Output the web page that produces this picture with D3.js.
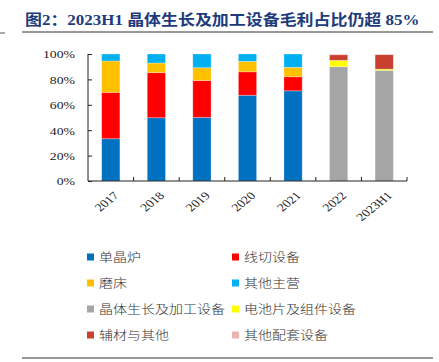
<!DOCTYPE html>
<html><head><meta charset="utf-8">
<script src="https://cdn.jsdelivr.net/npm/d3@7"></script>
<style>body{margin:0;background:#fff}svg{display:block}</style>
</head><body>
<svg id="c" width="439" height="362"></svg>
<script>
const categories = ['2017','2018','2019','2020','2021','2022','2023H1'];
const seriesNames = ['单晶炉','线切设备','磨床','其他主营','晶体生长及加工设备','电池片及组件设备','辅材与其他','其他配套设备'];
const s单晶炉 = [33.3, 49.8, 50.1, 67.5, 71.0, 0, 0];
const s线切设备 = [36.5, 35.5, 29.0, 18.5, 11.1, 0, 0];
const s磨床 = [24.7, 7.6, 10.1, 8.2, 7.4, 0, 0];
const s其他主营 = [5.5, 7.1, 10.8, 5.8, 10.5, 0, 0];
const s晶体生长 = [0, 0, 0, 0, 0, 90.0, 87.1];
const s电池片 = [0, 0, 0, 0, 0, 5.0, 1.0];
const s辅材 = [0, 0, 0, 0, 0, 4.4, 11.4];
const s其他配套 = [0, 0, 0, 0, 0, 0.6, 0.5];
const yTicks = [0, 20, 40, 60, 80, 100];
const colors = ['#0070C0','#FF0000','#FFC000','#00B0F0','#A5A5A5','#FFFF00','#C9402F','#EBB3AE'];

const seriesVals = [s单晶炉,s线切设备,s磨床,s其他主营,s晶体生长,s电池片,s辅材,s其他配套];
const table = categories.map((c,i)=>{const o={cat:c}; seriesNames.forEach((n,j)=>o[n]=seriesVals[j][i]); return o;});
const stacked = d3.stack().keys(seriesNames)(table);

const svg = d3.select('#c');
const x = d3.scaleBand().domain(categories).range([88,407]).padding(0);
const y = d3.scaleLinear().domain([0,100]).range([181,54]);
const bw = x.bandwidth()*0.4;

// title
svg.append('text').attr('transform','translate(25,25) scale(1.13,1)')
  .attr('font-family','"Liberation Serif","Noto Sans CJK SC"').attr('font-weight','bold')
  .attr('font-size',15).attr('fill','#203a7c')
  .text('图2：2023H1 晶体生长及加工设备毛利占比仍超 85%');
svg.append('line').attr('x1',22).attr('x2',433).attr('y1',32).attr('y2',32).attr('stroke','#333').attr('stroke-width',1.2);
svg.append('line').attr('x1',0).attr('x2',5).attr('y1',33).attr('y2',33).attr('stroke','#555').attr('stroke-width',1);
svg.append('line').attr('x1',22).attr('x2',433).attr('y1',358).attr('y2',358).attr('stroke','#333').attr('stroke-width',1.2);

// bars
svg.append('g').selectAll('g').data(stacked).join('g').attr('fill',(d,i)=>colors[i])
  .selectAll('rect').data(d=>d.filter(p=>p[1]-p[0]>0)).join('rect')
  .attr('x',d=>x(d.data.cat)+x.bandwidth()/2-bw/2).attr('width',bw)
  .attr('y',d=>y(d[1])).attr('height',d=>y(d[0])-y(d[1]))
  .attr('stroke','#fff').attr('stroke-opacity',0.35).attr('stroke-width',0.8);

// y axis
const ya = svg.append('g').attr('transform','translate(88,0)')
  .call(d3.axisLeft(y).tickValues(yTicks).tickSize(-4).tickPadding(0).tickFormat(d=>d+'%'));
ya.select('.domain').attr('d','M0,54V181').attr('stroke','#222');
ya.selectAll('.tick line').attr('stroke','#222');
ya.selectAll('.tick text').remove();
ya.selectAll('.tick').append('text')
  .attr('transform','translate(-13,0) scale(1.25,1)').attr('dy','0.35em')
  .attr('text-anchor','end').attr('font-family','"Liberation Serif"').attr('font-size',11).attr('fill','#222')
  .text(d=>d+'%');

// x axis
const xa = svg.append('g').attr('transform','translate(0,181)')
  .call(d3.axisBottom(x).tickSize(0).tickFormat(''));
xa.select('.domain').attr('d','M88,0H407').attr('stroke','#222');
xa.selectAll('.tick line').remove();
const bounds = categories.map(c=>x(c)).concat([x(categories[categories.length-1])+x.bandwidth()]).slice(1);
xa.selectAll('line.b').data(bounds).join('line').attr('class','b')
  .attr('x1',d=>d).attr('x2',d=>d).attr('y1',0).attr('y2',-4).attr('stroke','#222');
xa.selectAll('text.lbl').data(categories).join('text').attr('class','lbl')
  .attr('transform',d=>`translate(${x(d)+x.bandwidth()/2+2},10) scale(1.25,1) rotate(-45)`)
  .attr('text-anchor','end').attr('dy','0.7em')
  .attr('font-family','"Liberation Serif"').attr('font-size',11).attr('fill','#222')
  .text(d=>d);

// legend
const lg = svg.append('g').selectAll('g').data(seriesNames).join('g')
  .attr('transform',(d,i)=>`translate(${i%2===0?87:232},${257+Math.floor(i/2)*26})`);
lg.append('rect').attr('x',0).attr('y',-3.5).attr('width',7).attr('height',7).attr('fill',(d,i)=>colors[i]);
lg.append('text').attr('transform','translate(12,0) scale(1.12,1)').attr('dy','0.36em')
  .attr('font-family','"Noto Sans CJK SC"').attr('font-weight',300).attr('font-size',12.5).attr('fill','#333').text(d=>d);
</script>
</body></html>
